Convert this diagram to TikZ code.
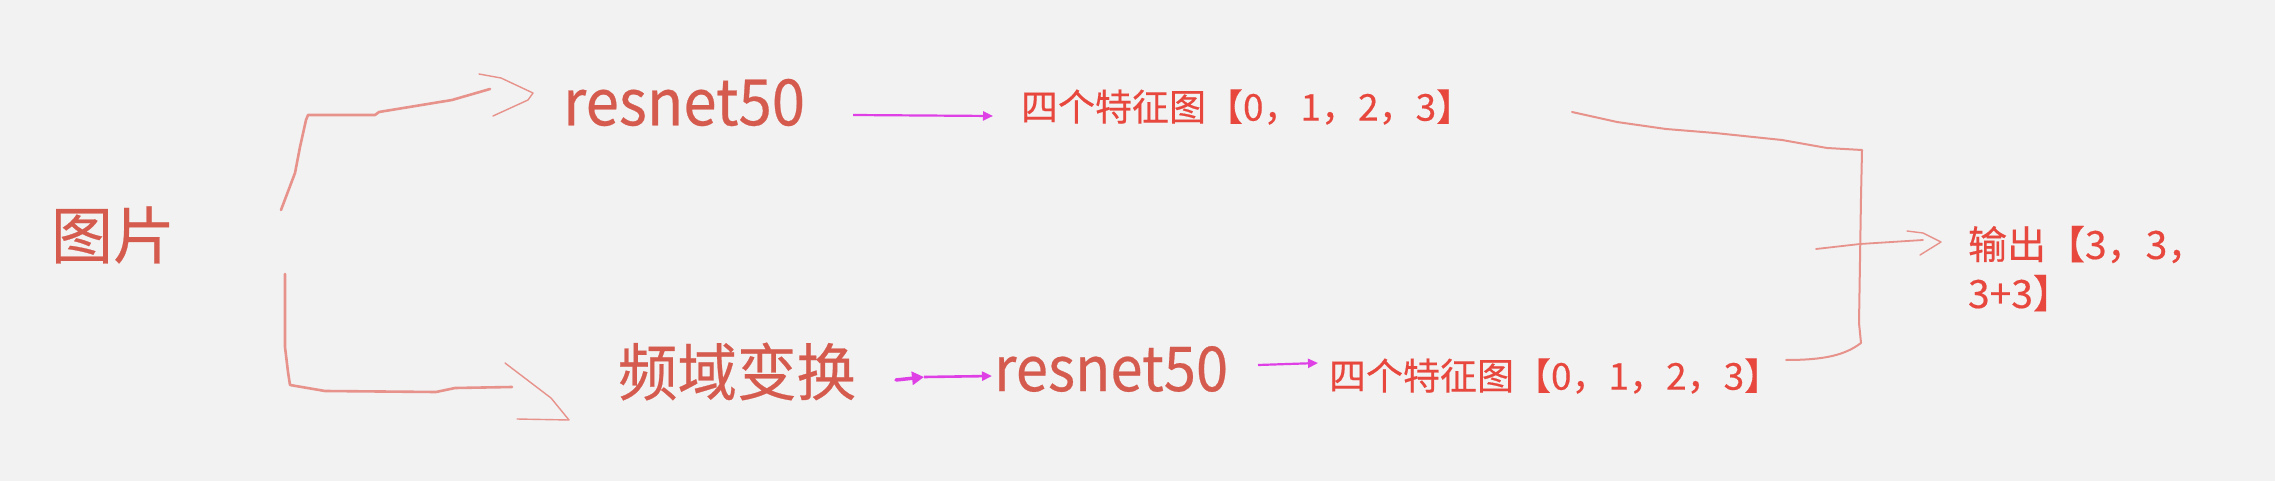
\documentclass[tikz,border=0pt]{standalone}
\usepackage{fontspec}
\usepackage{graphicx}
\newfontfamily\cjkf{Noto Sans CJK SC}[FakeBold=0.4]
\usetikzlibrary{arrows.meta}
\definecolor{bg}{HTML}{F2F2F2}
\definecolor{txt}{HTML}{D65B4F}
\definecolor{txtb}{HTML}{E8473D}
\definecolor{penc}{HTML}{E8928C}
\definecolor{mag}{HTML}{DE40E6}
\newcommand\sqz[2]{\scalebox{#1}[1]{#2}}
\begin{document}
\begin{tikzpicture}[x=1pt,y=-1pt,
  lbl/.style={inner sep=0pt, outer sep=0pt},
  big/.style={lbl, text=txt, font=\cjkf\fontsize{62}{70}\selectfont},
  small/.style={lbl, text=txtb, font=\cjkf\fontsize{37}{44}\selectfont},
  pen/.style={draw=penc, line width=2.6pt, line join=round, line cap=round},
  thinpen/.style={draw=penc, line width=1.4pt, line join=round, line cap=round},
  magarrow/.style={draw=mag, line width=2.2pt, -{Triangle[length=10pt,width=9pt]}},
]
\fill[bg] (0,0) rectangle (2275,481);
\useasboundingbox (0,0) rectangle (2275,481);

% texts
\node[big] (pic) at (113,235) {图片};
\node[big, font=\cjkf\fontsize{64}{70}\selectfont] (res1) at (684,102.5) {\sqz{0.936}{resnet50}};
\node[small, anchor=west] (feat1) at (1021,107) {四个特征图【0，1，2，3】};
\node[big] (freq) at (737,371.5) {\sqz{0.96}{频域变换}};
\node[big] (res2) at (1111,369) {\sqz{0.935}{resnet50}};
\node[small, anchor=west] (feat2) at (1329,376) {四个特征图【0，1，2，3】};
\node[small, font=\cjkf\fontsize{39}{49}\selectfont, align=left, anchor=north west] (out) at (1968,226) {输出【3，3，\\3+3】};

% named free ends
\coordinate (a1) at (281,210);
\coordinate (a2) at (490,89);
\coordinate (b1) at (285,274);
\coordinate (b2) at (512,387);
\coordinate (c1) at (1572,112);
\coordinate (c2) at (1786,360);
\coordinate (d1) at (1816,249);
\coordinate (d2) at (1923,240);
\coordinate (m1a) at (853,115);
\coordinate (m1b) at (993,116);
\coordinate (m2a) at (896,380);
\coordinate (m2k) at (924,377);
\coordinate (m2b) at (992,376);
\coordinate (m3a) at (1258,365);
\coordinate (m3b) at (1318,363);

% picture -> resnet50
\draw[pen] (a1) -- (295,173) -- (300,147) -- (306,120) -- (308,115) -- (375,115)
  -- (379,112) -- (452,100) -- (a2);
\draw[thinpen] (479,74) -- (501,78) -- (533,93) -- (528,100) -- (493,116);

% picture -> frequency transform
\draw[pen] (b1) -- (285,347) -- (288,372) -- (290,385) -- (325,391) -- (436,392)
  -- (455,388) -- (b2);
\draw[thinpen] (505,363) -- (551,398) -- (569,420) -- (517,419);

% magenta arrows
\draw[magarrow] (m1a) -- (m1b);
\draw[mag, line width=3.5pt, line cap=round, -{Triangle[length=12pt,width=13pt]}] (m2a) -- (m2k);
\draw[magarrow, line width=2.6pt] (m2k) -- (m2b);
\draw[magarrow] (m3a) -- (m3b);

% feature maps -> output bracket
\draw[pen, line width=2pt] (c1) -- (1617,122) -- (1666,129) -- (1715,133) -- (1782,140)
  -- (1827,148) -- (1862,150) -- (1861,197) -- (1859,323) -- (1861,343)
  .. controls (1845,355) and (1825,360) .. (c2);
\draw[pen, line width=1.8pt] (d1) -- (1860,244) -- (d2);
\draw[thinpen] (1907,231) -- (1923,233) -- (1941,242) -- (1920,255);
\end{tikzpicture}
\end{document}
